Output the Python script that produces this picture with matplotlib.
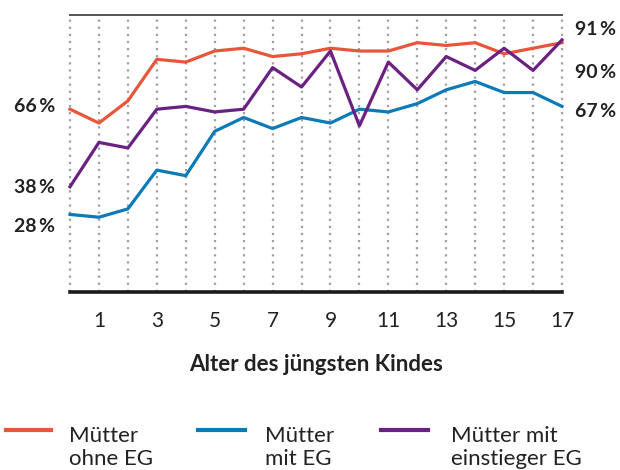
import numpy as np
from matplotlib import pyplot as plt
from matplotlib.lines import Line2D

# data
ages = list(range(0, 18))
ohne_eg = [66, 61, 69, 84, 83, 87, 88, 85, 86, 88, 87, 87, 90, 89, 90, 86, 88, 90]
mit_eg = [28, 27, 30, 44, 42, 58, 63, 59, 63, 61, 66, 65, 68, 73, 76, 72, 72, 67]
einstieg_eg = [38, 54, 52, 66, 67, 65, 66, 81, 74, 87, 60, 83, 73, 85, 80, 88, 80, 91]

tick_ages = [1, 3, 5, 7, 9, 11, 13, 15, 17]
left_labels = ["66\u2009%", "38\u2009%", "28\u2009%"]
right_labels = ["91\u2009%", "90\u2009%", "67\u2009%"]
legend_labels = ["Mütter\nohne EG", "Mütter\nmit EG", "Mütter mit\neinstieger EG"]

RED = "#e9553b"
BLUE = "#0a7bb8"
PURPLE = "#6b2181"
TXT = "#222222"

plt.rcParams['font.family'] = ['Lato', 'DejaVu Sans']

W, H = 620, 470
fig = plt.figure(figsize=(W / 100, H / 100), dpi=100)
L, R, T, B = 70, 562, 15, 292
ax = fig.add_axes([L / W, 1 - B / H, (R - L) / W, (B - T) / H])

# dotted verticals at every age
for a in ages:
    ax.axvline(a, color="#a0a0a0", lw=1.6, ls=(0, (1, 2.2)), zorder=1, clip_on=False)

ax.plot(ages, ohne_eg, color=RED, lw=2.3, zorder=3, clip_on=False)
ax.plot(ages, mit_eg, color=BLUE, lw=2.3, zorder=3, clip_on=False)
ax.plot(ages, einstieg_eg, color=PURPLE, lw=2.3, zorder=3, clip_on=False)

ax.set_xlim(0, 17)
ax.set_ylim(0, 100)
ax.set_yticks([])
ax.set_xticks(tick_ages)
ax.set_xticklabels([str(t) for t in tick_ages], fontsize=15, color=TXT)
ax.tick_params(axis="x", length=0, pad=14)

for s in ["left", "right"]:
    ax.spines[s].set_visible(False)
ax.spines["top"].set_color("#555555")
ax.spines["top"].set_linewidth(1.4)
ax.spines["bottom"].set_color("#1a1a1a")
ax.spines["bottom"].set_linewidth(2.6)

ax.set_xlabel("Alter des jüngsten Kindes", fontsize=16, fontweight="bold",
              color=TXT, labelpad=16)

# start / end value labels
for lab, yv in zip(left_labels, [66.8, 37.9, 23.5]):
    ax.text(-0.52, yv, lab, ha="right", va="center", fontsize=14,
            fontweight="bold", color=TXT)
for lab, yv in zip(right_labels, [94.6, 79.1, 65.0]):
    ax.text(17.45, yv, lab, ha="left", va="center", fontsize=14,
            fontweight="bold", color=TXT)

# legend built by hand
leg = [(6, 51, 69, RED), (198, 245, 265, BLUE), (381, 428, 451, PURPLE)]
for (x0, x1, tx, c), lab in zip(leg, legend_labels):
    fig.add_artist(Line2D([x0 / W, x1 / W], [1 - 430 / H, 1 - 430 / H],
                          color=c, lw=3))
    first, second = lab.split("\n")
    fig.text(tx / W, 1 - 442 / H, first, ha="left", va="baseline",
             fontsize=16, color=TXT)
    fig.text(tx / W, 1 - 465 / H, second, ha="left", va="baseline",
             fontsize=16, color=TXT)

fig.savefig("out.png", dpi=100)
